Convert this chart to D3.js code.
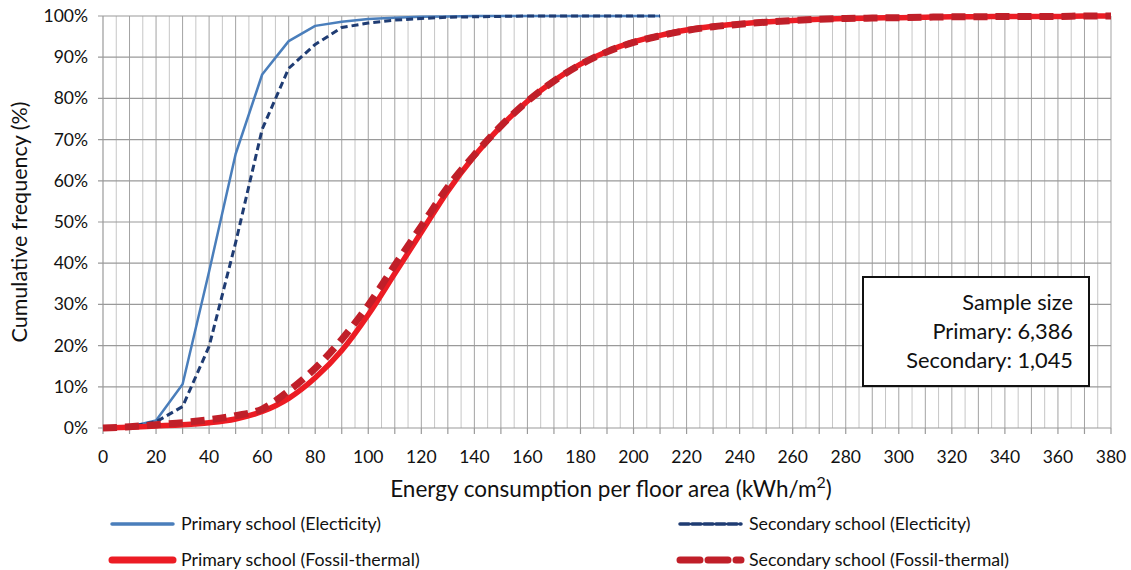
<!DOCTYPE html>
<html>
<head>
<meta charset="utf-8">
<script src="https://cdn.jsdelivr.net/npm/d3@7"></script>
<style>
  body { margin: 0; background: #fff; }
  svg { display: block; font-family: Lato, "Open Sans", sans-serif; }
</style>
</head>
<body>
<div id="chart"></div>
<script>
let CHART_WIDTH = 1131;
let CHART_HEIGHT = 570;

// energy consumption per floor area (kWh/m2)
var elecEnergy = [0,10,20,30,40,50,60,70,80,90,100,110,120,130,140,150,160,170,180,190,200,210];
var fossilEnergy = [0,10,20,30,40,50,60,70,80,90,100,110,120,130,140,150,160,170,180,190,
	200,210,220,230,240,250,260,270,280,290,300,310,320,330,340,350,360,370,380];

// cumulative frequency (%)
var primaryElec = [0,0.3,1.8,10.6,38,66.5,85.8,93.9,97.6,98.6,99.3,99.6,99.8,99.9,100,100,100,100,100,100,100,100];
var secondaryElec = [0,0.3,1.5,5.2,19.8,45,72.5,87.3,93.1,97.2,98.3,99.0,99.4,99.7,99.8,99.9,100,100,100,100,100,100];
var primaryFossil = [0,0.2,0.5,0.8,1.3,2.2,4.0,7.2,12.2,18.8,27.5,37.5,47.5,57.5,66,73.2,79.3,84.3,88.3,91.4,
	93.7,95.3,96.6,97.5,98.1,98.6,98.9,99.2,99.4,99.5,99.6,99.7,99.8,99.8,99.9,99.9,99.9,100,100];
var secondaryFossil = [0,0.3,0.8,1.3,2.0,3.0,4.6,9.0,14.5,21.5,29.8,39.5,49,58.5,66.3,73.3,79.3,84.2,88.2,91.3,
	93.6,95.2,96.5,97.4,98.0,98.5,98.9,99.2,99.4,99.5,99.6,99.7,99.8,99.8,99.9,99.9,99.9,100,100];

var xTicks = [0,20,40,60,80,100,120,140,160,180,200,220,240,260,280,300,320,340,360,380];
var yTicks = [0,10,20,30,40,50,60,70,80,90,100];

var seriesNames = ["Primary school (Electicity)", "Secondary school (Electicity)",
	"Primary school (Fossil-thermal)", "Secondary school (Fossil-thermal)"];
var sampleLines = ["Sample size", "Primary: 6,386", "Secondary: 1,045"];

var series = [
	{name: seriesNames[0], x: elecEnergy, y: primaryElec, color: "#4a7ebb", width: 2.5, dash: null, curve: d3.curveLinear},
	{name: seriesNames[1], x: elecEnergy, y: secondaryElec, color: "#1f3c73", width: 3, dash: "7,4", curve: d3.curveLinear},
	{name: seriesNames[2], x: fossilEnergy, y: primaryFossil, color: "#ec1c24", width: 5.5, dash: null, curve: d3.curveMonotoneX},
	{name: seriesNames[3], x: fossilEnergy, y: secondaryFossil, color: "#c01f29", width: 7, dash: "14,8", curve: d3.curveMonotoneX}
];

const drawChart = () => {
	var svg = d3.select("#chart").append("svg")
		.attr("width", CHART_WIDTH)
		.attr("height", CHART_HEIGHT);

	var xScale = d3.scaleLinear().domain([0, 380]).range([103, 1111]);
	var yScale = d3.scaleLinear().domain([0, 100]).range([428, 16]);

	// vertical grid every 5, darker every 10
	var grid = svg.append("g");
	grid.selectAll(".vminor")
		.data(d3.range(5, 380, 10))
		.enter().append("line")
		.attr("x1", d => xScale(d)).attr("x2", d => xScale(d))
		.attr("y1", yScale(0)).attr("y2", yScale(100))
		.attr("stroke", "#c6c6c6").attr("stroke-width", 1);
	grid.selectAll(".vmajor")
		.data(d3.range(10, 381, 10))
		.enter().append("line")
		.attr("x1", d => xScale(d)).attr("x2", d => xScale(d))
		.attr("y1", yScale(0)).attr("y2", yScale(100))
		.attr("stroke", "#a3a3a3").attr("stroke-width", 1);

	// horizontal grid
	grid.selectAll(".hline")
		.data(yTicks)
		.enter().append("line")
		.attr("x1", xScale(0) - 5).attr("x2", xScale(380))
		.attr("y1", d => yScale(d)).attr("y2", d => yScale(d))
		.attr("stroke", "#9a9a9a").attr("stroke-width", 1.2);

	// y axis line
	svg.append("line")
		.attr("x1", xScale(0)).attr("x2", xScale(0))
		.attr("y1", yScale(0)).attr("y2", yScale(100))
		.attr("stroke", "#9a9a9a").attr("stroke-width", 1.2);

	// x tick marks every 10
	svg.selectAll(".xtick")
		.data(d3.range(0, 381, 10))
		.enter().append("line")
		.attr("x1", d => xScale(d)).attr("x2", d => xScale(d))
		.attr("y1", yScale(0)).attr("y2", yScale(0) + 6)
		.attr("stroke", "#9a9a9a").attr("stroke-width", 1.2);

	svg.selectAll(".xlabel")
		.data(xTicks)
		.enter().append("text")
		.attr("x", d => xScale(d))
		.attr("y", 463)
		.attr("text-anchor", "middle")
		.attr("font-size", 17.5)
		.attr("fill", "#111")
		.text(d => d);

	svg.selectAll(".ylabel")
		.data(yTicks)
		.enter().append("text")
		.attr("x", 88)
		.attr("y", d => yScale(d) + 6)
		.attr("text-anchor", "end")
		.attr("font-size", 17.5)
		.attr("fill", "#111")
		.text(d => d + "%");

	// axis titles
	var xt = svg.append("text")
		.attr("x", 611).attr("y", 497)
		.attr("text-anchor", "middle")
		.attr("font-size", 22.5)
		.attr("fill", "#111")
		.text("Energy consumption per floor area (kWh/m");
	xt.append("tspan").attr("baseline-shift", "super").attr("font-size", 16).text("2");
	xt.append("tspan").text(")");

	svg.append("text")
		.attr("transform", "translate(27,222) rotate(-90)")
		.attr("text-anchor", "middle")
		.attr("font-size", 21.5)
		.attr("fill", "#111")
		.text("Cumulative frequency (%)");

	// lines
	series.forEach(function (s) {
		var line = d3.line()
			.x((d, i) => xScale(s.x[i]))
			.y(d => yScale(d))
			.curve(s.curve);
		svg.append("path")
			.datum(s.y)
			.attr("d", line)
			.attr("fill", "none")
			.attr("stroke", s.color)
			.attr("stroke-width", s.width)
			.attr("stroke-dasharray", s.dash)
			.attr("stroke-linejoin", "round");
	});

	// sample size box
	var box = svg.append("g");
	box.append("rect")
		.attr("x", 863).attr("y", 277)
		.attr("width", 226).attr("height", 109)
		.attr("fill", "#fff")
		.attr("stroke", "#111").attr("stroke-width", 2);
	box.selectAll("text")
		.data(sampleLines)
		.enter().append("text")
		.attr("x", 1073)
		.attr("y", (d, i) => 310 + i * 29)
		.attr("text-anchor", "end")
		.attr("font-size", 21.8)
		.attr("fill", "#111")
		.text(d => d);

	// legend
	var legendPos = [
		{x: 110, y: 524}, {x: 678, y: 524},
		{x: 110, y: 560}, {x: 678, y: 560}
	];
	var legendDash = [null, "9,3", null, "20,8"];
	var legendWidth = [3.5, 3.5, 7, 7];
	series.forEach(function (s, i) {
		var p = legendPos[i];
		svg.append("line")
			.attr("x1", p.x + 2).attr("x2", p.x + 63)
			.attr("y1", p.y).attr("y2", p.y)
			.attr("stroke", s.color)
			.attr("stroke-width", legendWidth[i])
			.attr("stroke-linecap", "round")
			.attr("stroke-dasharray", legendDash[i]);
		svg.append("text")
			.attr("x", p.x + 71)
			.attr("y", p.y + 6)
			.attr("font-size", 17.8)
			.attr("fill", "#111")
			.text(s.name);
	});
};

drawChart();
</script>
</body>
</html>
